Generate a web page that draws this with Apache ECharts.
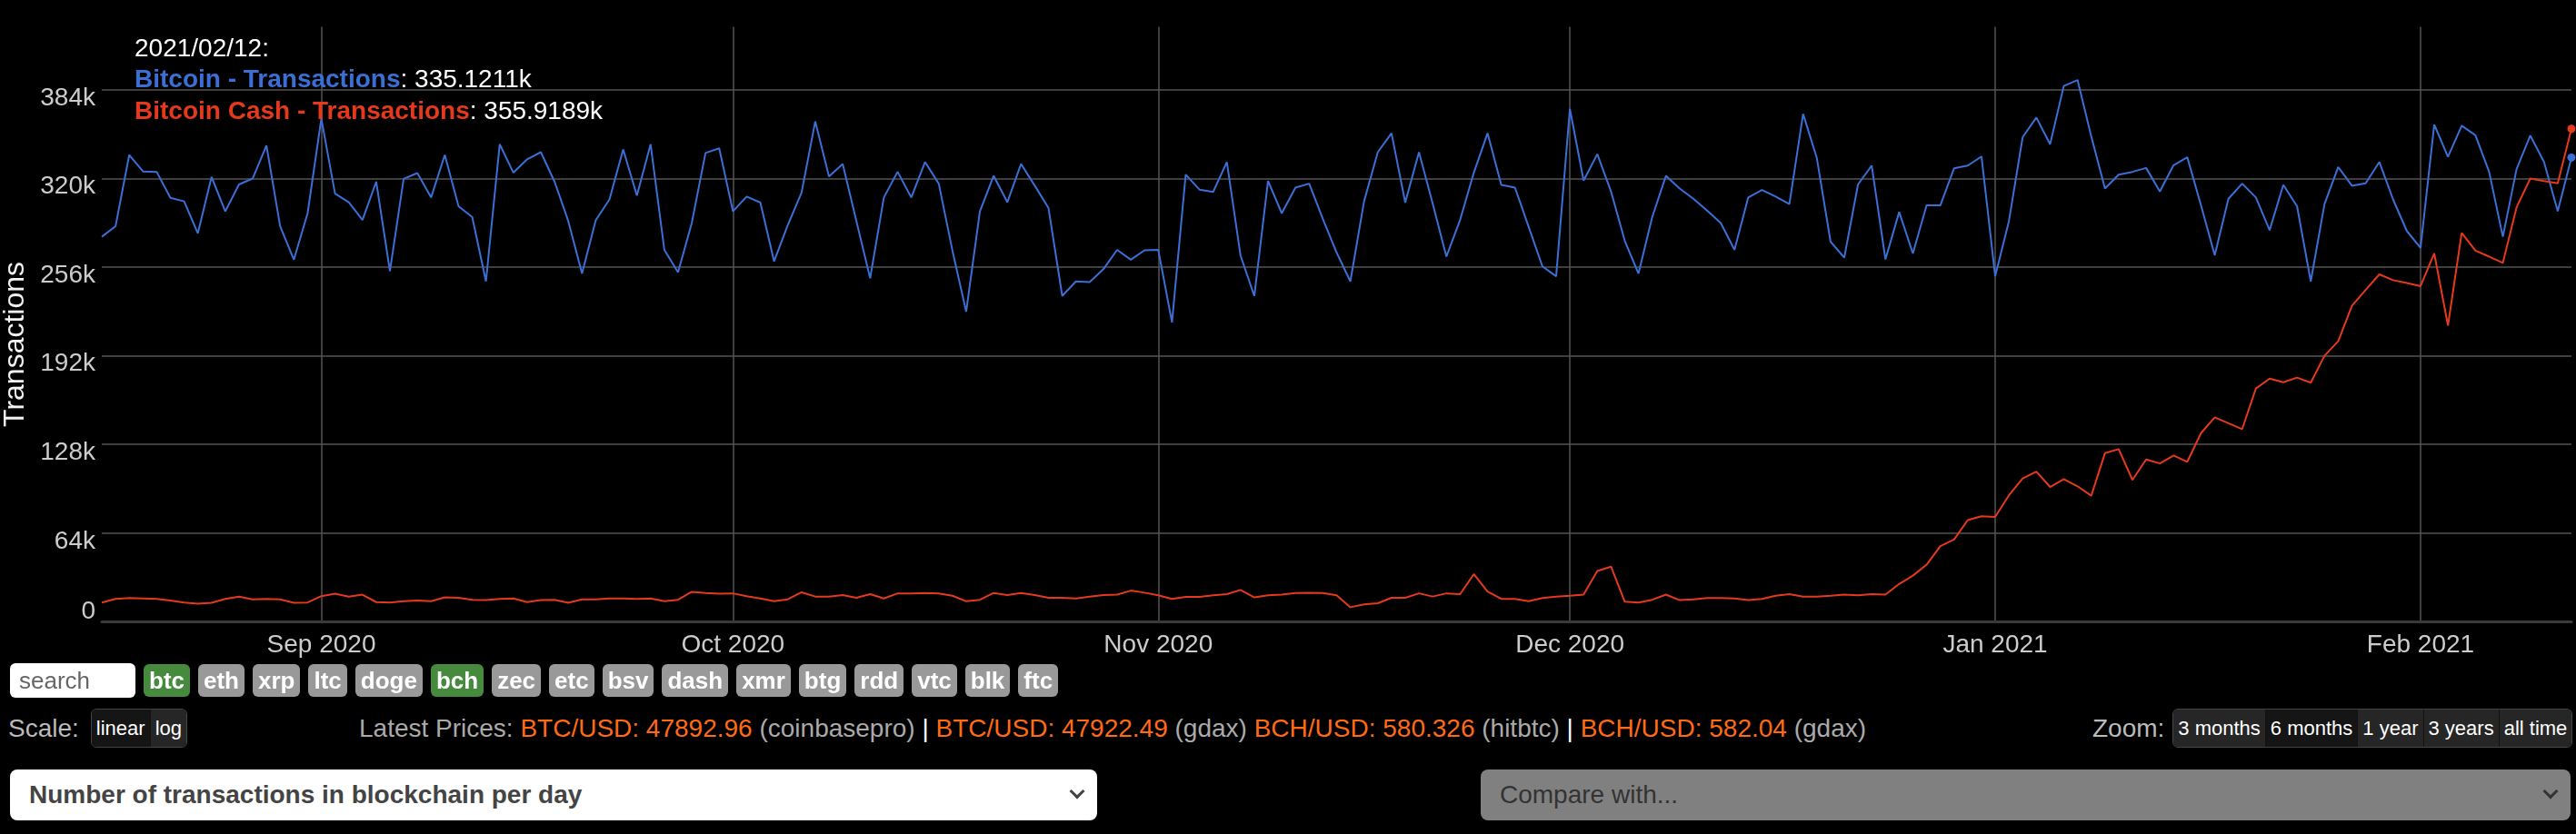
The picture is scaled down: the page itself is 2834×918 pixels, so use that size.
<!DOCTYPE html>
<html>
<head>
<meta charset="utf-8">
<title>Number of transactions in blockchain per day</title>
<script src="https://cdn.jsdelivr.net/npm/echarts@6/dist/echarts.min.js"></script>
<style>
body { margin:0; background:#000; width:2834px; height:918px; overflow:hidden;
       font-family:"Liberation Sans", Helvetica, Arial, sans-serif; }
#chart { position:absolute; left:0; top:0; width:2834px; height:740px; }
.row { position:absolute; display:flex; align-items:center; }
#coins { left:11px; top:730px; height:37px; gap:9px; }
.search { width:138px; height:38px; background:#fff; border-radius:6px; color:#666;
          font-size:26px; line-height:38px; padding-left:10px; box-sizing:border-box; }
.coin { height:36px; line-height:36px; padding:0 6px; border-radius:6px; background:#999;
        color:#fff; font-weight:bold; font-size:26px; }
.coin.on { background:#458a3d; }
.lbl { color:#bbb; font-size:28px; }
.grp { display:flex; height:43px; border-radius:6px; overflow:hidden; border:1px solid #444; box-sizing:border-box; }
.grp span { background:#262626; color:#fff; font-size:22px; line-height:41px; padding:0 5px; border-left:1px solid #111; }
.grp span:first-child { border-left:none; }
.grp span.act { background:#151515; }
#prices { position:absolute; left:395px; top:780px; height:43px; line-height:43px; color:#aaa; font-size:28px; white-space:pre; }
#prices b { color:#ff6a14; font-weight:normal; }
#prices i { color:#fff; font-style:normal; }
.sel { position:absolute; top:847px; height:56px; border-radius:8px; box-sizing:border-box;
       font-size:28px; line-height:56px; padding-left:21px; }
.sel .chev { position:absolute; right:16px; top:18px; width:9px; height:9px;
             border-right:3px solid #444; border-bottom:3px solid #444; transform:rotate(45deg); }
</style>
</head>
<body>
<div id="chart"></div>

<div class="row" id="coins">
  <div class="search">search</div>
  <div class="coin on">btc</div><div class="coin">eth</div><div class="coin">xrp</div>
  <div class="coin">ltc</div><div class="coin">doge</div><div class="coin on">bch</div>
  <div class="coin">zec</div><div class="coin">etc</div><div class="coin">bsv</div>
  <div class="coin">dash</div><div class="coin">xmr</div><div class="coin">btg</div>
  <div class="coin">rdd</div><div class="coin">vtc</div><div class="coin">blk</div>
  <div class="coin">ftc</div>
</div>

<div class="row" style="left:9px;top:780px;height:43px;">
  <span class="lbl" style="margin-right:13px;">Scale:</span>
  <div class="grp"><span class="act">linear</span><span>log</span></div>
</div>

<div id="prices">Latest Prices: <b>BTC/USD: 47892.96</b> (coinbasepro) <i>|</i> <b>BTC/USD: 47922.49</b> (gdax) <b>BCH/USD: 580.326</b> (hitbtc) <i>|</i> <b>BCH/USD: 582.04</b> (gdax)</div>

<div class="row" style="left:2302px;top:780px;height:43px;">
  <span class="lbl" style="margin-right:9px;">Zoom:</span>
  <div class="grp"><span>3 months</span><span class="act">6 months</span><span>1 year</span><span>3 years</span><span>all time</span></div>
</div>

<div class="sel" style="left:11px;width:1196px;background:#fff;color:#444;font-weight:bold;">Number of transactions in blockchain per day<span class="chev"></span></div>
<div class="sel" style="left:1629px;width:1199px;background:#808080;color:#333;">Compare with...<span class="chev" style="border-color:#333;"></span></div>

<script type="text/javascript">
// daily values, thousands of transactions, 2020-08-16 .. 2021-02-12
var firstDay = Date.UTC(2020, 7, 16);
var dayMs = 86400000;

var btcAug = [277.9, 285.5, 337.0, 325.1, 324.8, 306.0, 303.5, 280.4, 321.1, 296.3, 315.7, 320.0, 343.8, 285.5, 261.4, 294.9];
var btcSep = [363.2, 309.1, 302.9, 290.1, 317.7, 253.1, 319.7, 323.9, 306.3, 337.0, 300.0, 292.1, 245.7, 344.7, 324.2,
              333.9, 339.0, 317.7, 289.2, 251.4, 289.8, 304.9, 341.0, 307.7, 344.7, 268.5, 252.3, 287.8, 338.4, 341.8];
var btcOct = [296.3, 306.9, 302.6, 260.2, 286.4, 309.7, 361.2, 321.4, 330.5, 289.2, 248.0, 306.3, 324.8, 306.3, 331.9,
              316.3, 267.9, 223.8, 296.3, 321.9, 302.9, 330.5, 314.8, 298.6, 235.2, 245.7, 245.2, 254.5, 268.5, 261.4, 268.2];
var btcNov = [268.5, 216.1, 322.8, 312.0, 310.3, 331.9, 264.2, 235.2, 318.2, 294.9, 313.4, 316.3, 290.7, 266.5, 245.7,
              303.5, 339.0, 352.7, 302.6, 339.0, 302.0, 263.6, 290.1, 324.2, 352.7, 315.4, 313.4, 285.0, 256.5, 249.4];
var btcDec = [370.3, 318.5, 337.6, 310.6, 275.0, 251.4, 292.1, 321.9, 312.8, 305.4, 296.9, 287.8, 268.5, 306.3, 311.7,
              306.9, 301.5, 366.6, 334.7, 274.4, 262.8, 315.7, 329.3, 261.6, 295.8, 265.9, 300.6, 300.6, 327.3, 329.3, 335.9];
var btcJan = [249.4, 289.2, 349.8, 364.0, 344.7, 386.8, 391.1, 350.4, 312.8, 322.8, 324.8, 327.6, 310.6, 329.6, 335.3,
              300.6, 264.5, 305.4, 316.3, 306.3, 282.7, 315.4, 300.0, 245.7, 301.5, 328.2, 314.8, 316.5, 331.9, 304.9, 282.1];
var btcFeb = [269.9, 358.9, 335.6, 358.1, 351.2, 324.8, 277.9, 326.8, 351.0, 331.9, 296.3, 335.1211];

var bchAug = [13.9, 16.5, 17.1, 16.8, 16.5, 15.4, 13.9, 13.1, 13.7, 16.5, 18.2, 16.2, 16.5, 16.2, 13.7, 13.9];
var bchSep = [18.5, 20.2, 18.2, 19.6, 14.2, 13.9, 14.8, 15.4, 14.8, 17.6, 17.3, 15.9, 15.6, 16.5, 16.8,
              14.2, 15.6, 15.9, 13.7, 16.2, 16.2, 16.8, 16.8, 16.5, 16.8, 14.8, 15.9, 21.6, 20.8, 20.2];
var bchOct = [20.5, 18.5, 16.8, 14.8, 16.2, 21.3, 18.2, 18.2, 19.3, 17.3, 19.9, 16.8, 20.5, 20.5, 20.8,
              20.5, 18.8, 14.8, 15.9, 20.8, 19.3, 20.8, 19.3, 17.3, 17.3, 16.8, 18.2, 19.3, 19.6, 22.5, 21.0];
var bchNov = [19.1, 16.5, 17.9, 17.9, 19.1, 19.9, 23.0, 17.6, 19.1, 19.6, 20.8, 21.0, 20.8, 19.1, 10.5,
              12.5, 13.4, 17.3, 17.3, 20.5, 18.2, 20.5, 19.9, 34.4, 21.9, 16.5, 16.5, 14.8, 17.1, 18.2];
var bchDec = [18.8, 19.6, 36.7, 39.8, 14.5, 13.9, 15.9, 19.6, 15.6, 16.2, 17.1, 17.1, 16.8, 15.6, 16.5,
              18.8, 19.9, 18.2, 18.2, 18.8, 19.6, 19.1, 19.9, 19.6, 27.3, 33.3, 41.2, 54.6, 59.4, 73.4, 76.2];
var bchJan = [75.7, 91.3, 103.5, 108.4, 97.3, 103.0, 97.8, 91.0, 121.7, 124.6, 102.4, 117.2, 114.3, 120.0, 115.5,
              136.2, 147.6, 143.3, 139.1, 168.4, 175.5, 172.9, 176.3, 172.6, 192.0, 202.5, 228.1, 239.5, 250.8, 246.6, 244.6];
var bchFeb = [242.3, 265.9, 213.9, 280.7, 267.9, 263.6, 259.1, 299.2, 320.0, 318.2, 316.5, 355.9189];

var yTicks = [0, 64, 128, 192, 256, 320, 384];
var monthNames = ['Jan', 'Feb', 'Mar', 'Apr', 'May', 'Jun', 'Jul', 'Aug', 'Sep', 'Oct', 'Nov', 'Dec'];

var btc = [].concat(btcAug, btcSep, btcOct, btcNov, btcDec, btcJan, btcFeb);
var bch = [].concat(bchAug, bchSep, bchOct, bchNov, bchDec, bchJan, bchFeb);

var blue = '#3b6fd6';
var red = '#e5391d';
var font = '"Liberation Sans", Helvetica, Arial, sans-serif';

function toPoints(arr, color) {
    var pts = arr.map(function (v, i) { return [firstDay + i * dayMs, v * 1000]; });
    var last = pts.length - 1;
    pts[last] = { value: pts[last], symbol: 'circle', symbolSize: 9, itemStyle: { color: color } };
    return pts;
}

function pad2(n) { return (n < 10 ? '0' : '') + n; }
var lastDay = new Date(firstDay + (btc.length - 1) * dayMs);
var legendText = lastDay.getUTCFullYear() + '/' + pad2(lastDay.getUTCMonth() + 1) + '/' + pad2(lastDay.getUTCDate()) + ':\n' +
    '{b|Bitcoin - Transactions}: ' + btc[btc.length - 1].toFixed(4) + 'k\n' +
    '{r|Bitcoin Cash - Transactions}: ' + bch[bch.length - 1].toFixed(4) + 'k';

var myChart = echarts.init(document.getElementById('chart'));
var option = {
    backgroundColor: '#000',
    animation: false,
    useUTC: true,
    textStyle: { fontFamily: font },
    title: {
        left: 148, top: 37, padding: 0,
        text: legendText,
        textStyle: {
            color: '#fff', fontSize: 28, fontWeight: 'normal', lineHeight: 34.5, fontFamily: font,
            rich: {
                b: { color: blue, fontWeight: 'bold', fontSize: 28, lineHeight: 34.5, fontFamily: font },
                r: { color: red, fontWeight: 'bold', fontSize: 28, lineHeight: 34.5, fontFamily: font }
            }
        }
    },
    grid: { left: 112, right: 5, top: 29.5, bottom: 55.6, containLabel: false, outerBoundsMode: 'none' },
    xAxis: {
        type: 'time',
        min: firstDay,
        max: firstDay + (btc.length - 1) * dayMs,
        minInterval: 28 * dayMs,
        maxInterval: 31 * dayMs,
        axisLine: { show: true, lineStyle: { color: '#3a3a3a', width: 3 } },
        axisTick: { show: false },
        axisLabel: {
            color: '#cccccc', fontSize: 28, margin: 12, fontFamily: font,
            showMinLabel: false, showMaxLabel: false,
            formatter: function (val) {
                var d = new Date(val);
                if (d.getUTCDate() !== 1) return '';
                return monthNames[d.getUTCMonth()] + ' ' + d.getUTCFullYear();
            }
        },
        splitLine: { show: true, showMinLine: false, showMaxLine: false, lineStyle: { color: '#555', width: 1.5 } }
    },
    yAxis: {
        type: 'value',
        min: 0,
        max: 429500,
        interval: 64000,
        name: 'Transactions',
        nameLocation: 'middle',
        nameRotate: 90,
        nameGap: 62,
        nameTextStyle: { color: '#f2f2f2', fontSize: 32, fontFamily: font, padding: [0, 44, 0, 0] },
        axisLine: { show: false },
        axisTick: { show: false },
        axisLabel: {
            color: '#cccccc', fontSize: 28, margin: 7, fontFamily: font,
            showMaxLabel: false,
            formatter: function (v) {
                var k = v / 1000;
                if (yTicks.indexOf(k) < 0) return '';
                return k === 0 ? '{z|0}' : '{a|' + k + 'k}';
            },
            rich: {
                a: { color: '#cccccc', fontSize: 28, fontFamily: font, padding: [18, 0, 0, 0] },
                z: { color: '#cccccc', fontSize: 28, fontFamily: font, padding: [0, 0, 22, 0] }
            }
        },
        splitLine: { show: true, showMinLine: false, showMaxLine: false, lineStyle: { color: '#555', width: 1.5 } }
    },
    series: [
        {
            name: 'Bitcoin - Transactions', type: 'line', data: toPoints(btc, blue),
            symbol: 'none', showSymbol: true, lineStyle: { color: blue, width: 2 }, itemStyle: { color: blue }
        },
        {
            name: 'Bitcoin Cash - Transactions', type: 'line', data: toPoints(bch, red),
            symbol: 'none', showSymbol: true, lineStyle: { color: red, width: 2 }, itemStyle: { color: red }
        }
    ]
};
myChart.setOption(option);
</script>
</body>
</html>
